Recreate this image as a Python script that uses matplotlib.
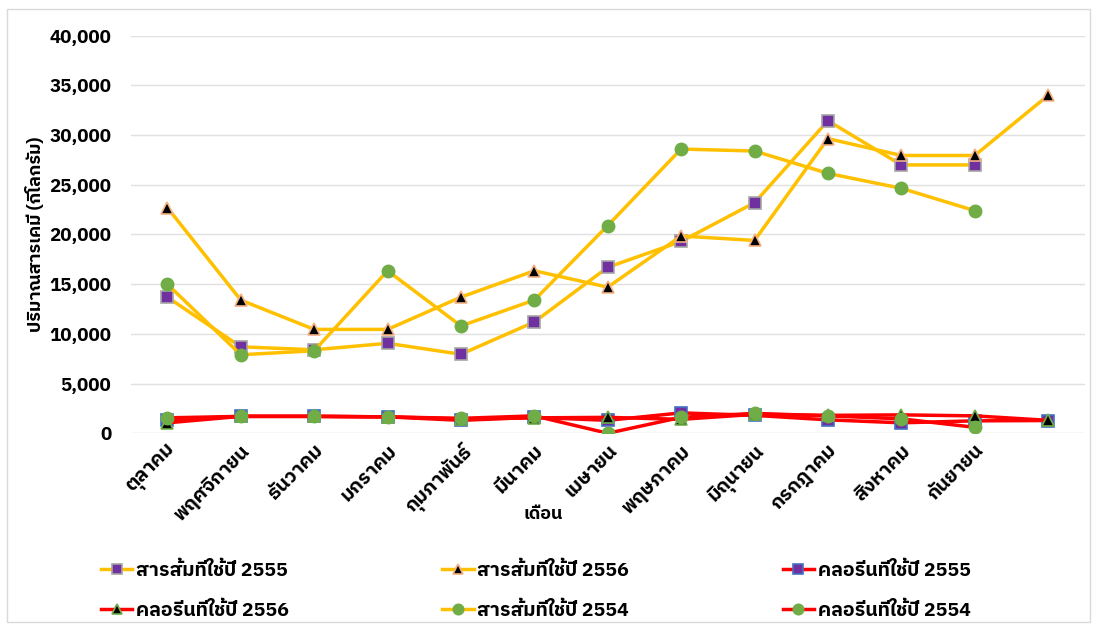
import matplotlib
matplotlib.use("Agg")
import matplotlib.pyplot as plt
from matplotlib import font_manager
from matplotlib.ticker import FuncFormatter

# pick a font that can render Thai script
thai_candidates = []
for f in font_manager.fontManager.ttflist:
    n = f.name
    if any(k in n for k in ("Thai", "Loma", "Garuda", "Tlwg", "Kinnari", "Norasi", "Sarabun", "Waree", "Umpush", "Laksaman", "Sawasdee", "Purisa")):
        thai_candidates.append(n)
families = sorted(set(thai_candidates)) + ["DejaVu Sans"]
plt.rcParams["font.family"] = families

months = ["ตุลาคม", "พฤศจิกายน", "ธันวาคม", "มกราคม", "กุมภาพันธ์", "มีนาคม",
          "เมษายน", "พฤษภาคม", "มิถุนายน", "กรกฎาคม", "สิงหาคม", "กันยายน", ""]

alum_2555 = [13700, 8700, 8400, 9050, 7950, 11200, 16700, 19300, 23200, 31450, 27000, 27000, None]
alum_2556 = [22700, 13400, 10450, 10450, 13700, 16350, 14700, 19850, 19400, 29650, 27950, 27950, 34000]
chlor_2555 = [1350, 1700, 1700, 1650, 1300, 1600, 1300, 2050, 1800, 1350, 1050, 1250, 1280]
chlor_2556 = [1050, 1700, 1700, 1650, 1450, 1550, 1600, 1400, 1900, 1800, 1850, 1750, 1300]
alum_2554 = [15000, 7900, 8300, 16350, 10800, 13400, 20900, 28600, 28400, 26150, 24650, 22400, None]
chlor_2554 = [1550, 1700, 1700, 1650, 1500, 1750, 0, 1600, 2000, 1750, 1450, 600, None]

fig = plt.figure(figsize=(10.98, 6.27), dpi=100)
ax = fig.add_axes([0.119, 0.309, 0.869, 0.634])

x = list(range(len(months)))

def series(vals):
    xs = [i for i, v in zip(x, vals) if v is not None]
    ys = [v for v in vals if v is not None]
    return xs, ys

YEL = "#FFC000"
RED = "#FF0000"
PURPLE = "#7030A0"
GREEN = "#70AD47"

h = {}
xs, ys = series(alum_2555)
h["a55"], = ax.plot(xs, ys, color=YEL, lw=2.5, marker="s", ms=8.5, mfc=PURPLE, mec="#A5A5A5", mew=1.2, label="สารส้มที่ใช้ปี 2555", zorder=3)
xs, ys = series(alum_2556)
h["a56"], = ax.plot(xs, ys, color=YEL, lw=2.5, marker="^", ms=8, mfc="black", mec="#F4B183", mew=1.2, label="สารส้มที่ใช้ปี 2556", zorder=3)
xs, ys = series(chlor_2555)
h["c55"], = ax.plot(xs, ys, color=RED, lw=2.5, marker="s", ms=8.5, mfc=PURPLE, mec="#4472C4", mew=1.2, label="คลอรีนที่ใช้ปี 2555", zorder=3)
xs, ys = series(chlor_2556)
h["c56"], = ax.plot(xs, ys, color=RED, lw=2.5, marker="^", ms=8, mfc="black", mec=GREEN, mew=1.2, label="คลอรีนที่ใช้ปี 2556", zorder=3)
xs, ys = series(alum_2554)
h["a54"], = ax.plot(xs, ys, color=YEL, lw=2.5, marker="o", ms=9, mfc=GREEN, mec=GREEN, label="สารส้มที่ใช้ปี 2554", zorder=4)
xs, ys = series(chlor_2554)
h["c54"], = ax.plot(xs, ys, color=RED, lw=2.5, marker="o", ms=9, mfc=GREEN, mec=GREEN, label="คลอรีนที่ใช้ปี 2554", zorder=4)

ax.set_xlim(-0.5, len(months) - 0.5)
ax.set_ylim(0, 40000)
ax.set_yticks(range(0, 40001, 5000))
ax.yaxis.set_major_formatter(FuncFormatter(lambda v, p: f"{int(v):,}"))
ax.grid(axis="y", color="#E0E0E0", lw=1)
ax.set_axisbelow(True)
for s in ax.spines.values():
    s.set_visible(False)
ax.tick_params(axis="both", length=0)
ax.tick_params(axis="y", pad=14)
ax.tick_params(axis="x", pad=6)
ax.set_xticks(x)
ax.set_xticklabels(months, rotation=45, ha="right", rotation_mode="anchor", fontsize=14, fontweight="bold")
for t in ax.get_yticklabels():
    t.set_fontsize(13.5)
    t.set_fontweight("bold")

ax.set_xlabel("เดือน", fontsize=13, fontweight="bold")
ax.xaxis.set_label_coords(0.432, -0.18)
ax.set_ylabel("ปริมาณสารเคมี (กิโลกรัม)", fontsize=13, fontweight="bold")
ax.yaxis.set_label_coords(-0.09, 0.5)

order = ["a55", "c56", "a56", "a54", "c55", "c54"]
leg = fig.legend([h[k] for k in order], [h[k].get_label() for k in order],
                 loc="lower left", bbox_to_anchor=(0.076, -0.016), ncol=3, frameon=False,
                 prop={"size": 14, "weight": "bold"}, columnspacing=7.9, handlelength=1.6,
                 handletextpad=0.2, labelspacing=1.1, markerscale=0.85)

# outer chart border
fig.patches.append(plt.Rectangle((0.006, 0.008), 0.987, 0.978, transform=fig.transFigure,
                                 fill=False, edgecolor="#D9D9D9", lw=1))

fig.savefig("out.png", dpi=100)
